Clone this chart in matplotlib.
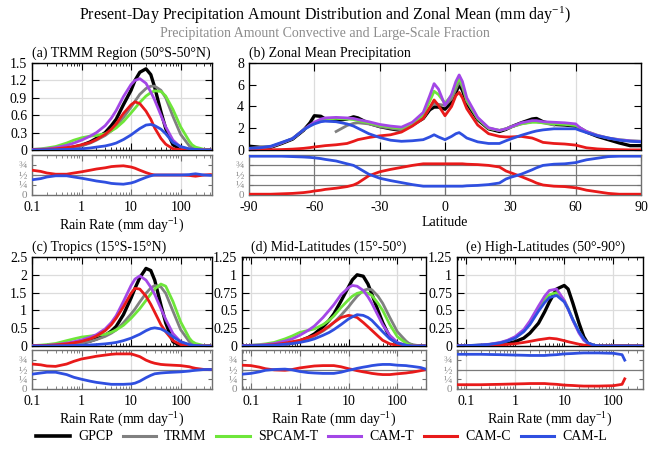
import matplotlib
matplotlib.use('Agg')
import matplotlib.pyplot as plt
import numpy as np
from matplotlib.ticker import LogLocator, NullFormatter
from matplotlib.lines import Line2D
import matplotlib.transforms as mtransforms

plt.rcParams['font.family'] = ['Liberation Serif', 'DejaVu Serif']
plt.rcParams['mathtext.fontset'] = 'custom'
plt.rcParams['mathtext.rm'] = 'Liberation Serif'
plt.rcParams['mathtext.it'] = 'Liberation Serif:italic'

# ---------------- data ----------------
series_names = ['GPCP', 'TRMM', 'SPCAM-T', 'CAM-T', 'CAM-C', 'CAM-L']
series_colors = ['#000000', '#808080', '#6ee63a', '#a347e6', '#e81a1a', '#2f4fe0']

rates = [0.066, 0.1, 0.15, 0.2, 0.3, 0.5, 0.7, 1, 1.5, 2, 3, 4, 5, 7, 10, 12, 15, 20, 25,
         30, 40, 50, 70, 100, 150, 170, 200, 300, 400]

# (a) TRMM region 50S-50N
a_gpcp  = [0, 0, .003, .005, .01, .03, .05, .08, .14, .2, .3, .42, .53, .78, 1.03, 1.2, 1.34, 1.40, 1.30, 1.08, .66, .37, .09, .015, 0, 0, 0, 0, 0]
a_trmm  = [0, 0, .003, .005, .01, .025, .04, .07, .12, .17, .25, .33, .41, .56, .74, .84, .96, 1.06, 1.10, 1.10, 1.03, .9, .58, .27, .07, .04, .02, 0, 0]
a_spcam = [.005, .01, .02, .035, .06, .12, .17, .21, .24, .25, .28, .33, .38, .49, .64, .72, .82, .93, .99, 1.02, 1.01, .93, .7, .4, .15, .09, .05, .01, 0]
a_camt  = [.005, .01, .015, .02, .04, .08, .12, .17, .24, .3, .42, .55, .68, .92, 1.13, 1.2, 1.23, 1.15, 1.0, .86, .6, .4, .17, .05, .01, .005, 0, 0, 0]
a_camc  = [0, .005, .008, .012, .02, .04, .06, .09, .13, .18, .27, .36, .45, .63, .78, .83, .80, .67, .53, .38, .2, .1, .02, .005, 0, 0, 0, 0, 0]
a_caml  = [0, .002, .003, .004, .006, .01, .014, .02, .035, .05, .07, .095, .12, .18, .26, .31, .37, .43, .44, .42, .36, .28, .13, .06, .02, .015, .01, 0, 0]
a_frac_c = [.63, .62, .59, .55, .52, .52, .55, .58, .62, .65, .68, .71, .72, .73, .70, .67, .62, .56, .52, .5, .5, .5, .5, .5, .49, .48, .47, .5, .51]
a_frac_l = [.37, .38, .41, .45, .48, .48, .45, .42, .38, .35, .32, .29, .28, .27, .30, .33, .38, .44, .48, .5, .5, .5, .5, .5, .51, .52, .53, .5, .49]

# (c) Tropics 15S-15N
c_gpcp  = [0, 0, .003, .005, .01, .03, .05, .08, .14, .2, .3, .42, .55, .88, 1.35, 1.62, 1.92, 2.18, 2.12, 1.85, 1.15, .65, .12, .01, 0, 0, 0, 0, 0]
c_trmm  = [0, 0, .003, .005, .01, .025, .045, .08, .13, .18, .27, .36, .45, .65, .9, 1.04, 1.24, 1.48, 1.63, 1.70, 1.66, 1.48, .98, .46, .12, .07, .03, 0, 0]
c_spcam = [.005, .01, .025, .04, .07, .15, .2, .25, .28, .3, .33, .39, .45, .58, .78, .9, 1.05, 1.28, 1.46, 1.6, 1.74, 1.68, 1.25, .68, .22, .13, .07, .01, 0]
c_camt  = [.005, .01, .015, .02, .04, .08, .12, .17, .25, .32, .48, .66, .85, 1.25, 1.7, 1.88, 1.97, 1.85, 1.65, 1.45, 1.05, .75, .35, .12, .03, .02, .01, 0, 0]
c_camc  = [.005, .01, .012, .016, .03, .06, .09, .13, .2, .28, .43, .6, .78, 1.1, 1.48, 1.62, 1.6, 1.4, 1.17, .95, .6, .4, .15, .04, .01, .005, 0, 0, 0]
c_caml  = [0, .002, .003, .004, .006, .01, .014, .02, .03, .04, .06, .08, .1, .15, .22, .27, .33, .43, .49, .51, .48, .41, .26, .12, .04, .02, .01, 0, 0]
c_frac_c = [.64, .64, .62, .59, .58, .64, .71, .77, .81, .84, .87, .89, .9, .9, .9, .87, .83, .74, .69, .66, .63, .62, .61, .6, .57, .55, .53, .5, .5]
c_frac_l = [.37, .38, .41, .43, .43, .37, .3, .25, .2, .17, .14, .12, .12, .12, .13, .15, .2, .29, .35, .39, .41, .42, .43, .44, .46, .47, .48, .5, .5]

# (d) Mid-latitudes 15-50
d_gpcp  = [0, .001, .003, .005, .01, .025, .04, .07, .12, .17, .27, .36, .45, .63, .83, .93, 1.0, .98, .87, .73, .5, .33, .12, .03, .005, 0, 0, 0, 0]
d_trmm  = [0, .001, .003, .005, .01, .022, .035, .06, .1, .14, .21, .27, .33, .43, .55, .62, .7, .78, .8, .79, .7, .6, .4, .2, .07, .04, .02, 0, 0]
d_spcam = [.005, .01, .02, .03, .05, .1, .14, .19, .22, .24, .3, .36, .42, .54, .65, .7, .74, .76, .74, .71, .6, .5, .3, .13, .04, .02, .01, 0, 0]
d_camt  = [.005, .01, .015, .02, .035, .07, .1, .15, .22, .28, .4, .5, .58, .72, .82, .85, .84, .78, .69, .6, .43, .3, .15, .05, .01, .005, 0, 0, 0]
d_camc  = [.003, .005, .008, .012, .02, .04, .06, .08, .12, .15, .22, .28, .33, .4, .43, .42, .4, .33, .27, .22, .14, .08, .03, .01, 0, 0, 0, 0, 0]
d_caml  = [.003, .005, .007, .009, .013, .025, .035, .05, .075, .1, .15, .19, .23, .3, .38, .41, .44, .43, .4, .36, .27, .2, .1, .04, .01, .005, 0, 0, 0]
d_frac_c = [.61, .6, .56, .52, .49, .48, .5, .54, .57, .59, .6, .6, .6, .57, .52, .5, .47, .44, .42, .4, .38, .37, .37, .39, .41, .42, .43, .47, .5]
d_frac_l = [.38, .4, .44, .48, .5, .51, .49, .45, .42, .41, .4, .4, .4, .43, .48, .5, .53, .56, .58, .6, .62, .63, .63, .61, .6, .59, .58, .55, .5]

# (e) High-latitudes 50-90
e_gpcp  = [0, .002, .004, .006, .01, .02, .035, .06, .11, .18, .32, .48, .62, .8, .85, .8, .6, .32, .13, .04, .005, 0, 0, 0, 0, 0, 0, 0, 0]
e_spcam = [.003, .006, .01, .014, .023, .045, .075, .12, .21, .32, .52, .65, .72, .75, .64, .53, .37, .2, .09, .04, .01, 0, 0, 0, 0, 0, 0, 0, 0]
e_camt  = [.003, .006, .01, .015, .025, .05, .08, .13, .23, .35, .56, .7, .78, .8, .64, .52, .36, .18, .08, .04, .01, 0, 0, 0, 0, 0, 0, 0, 0]
e_camc  = [.002, .003, .005, .007, .01, .017, .023, .032, .05, .065, .088, .1, .11, .1, .075, .06, .045, .025, .013, .007, .002, 0, 0, 0, 0, 0, 0, 0, 0]
e_caml  = [.003, .006, .01, .014, .022, .043, .07, .11, .2, .3, .49, .61, .68, .71, .62, .52, .37, .2, .1, .045, .012, .003, 0, 0, 0, 0, 0, 0, 0]
e_frac_c = [.11, .11, .11, .11, .115, .12, .125, .13, .135, .14, .14, .14, .13, .12, .1, .095, .09, .08, .075, .075, .075, .075, .08, .085, .12, .26, None, None, None]
e_frac_l = [.89, .89, .89, .89, .885, .88, .875, .87, .865, .86, .86, .86, .87, .88, .9, .905, .91, .92, .925, .925, .925, .925, .92, .915, .88, .74, None, None, None]

# (b) zonal mean precipitation
lat = [-90, -85, -80, -75, -70, -65, -62, -60, -57, -55, -50, -45, -42, -40, -35, -30, -25, -20, -15, -10,
       -7, -5, -3, 0, 3, 5, 6.5, 8, 10, 15, 20, 25, 28, 30, 35, 40, 42, 45, 50, 55, 60, 62, 65, 70, 75, 80, 85, 90]
b_gpcp  = [.35, .25, .25, .6, 1.0, 1.8, 2.5, 3.15, 3.1, 2.85, 2.7, 2.85, 3.05, 2.95, 2.45, 2.15, 1.95, 1.8, 2.3, 2.9,
           3.7, 3.95, 3.95, 3.75, 4.4, 5.3, 6.0, 5.5, 4.3, 2.8, 1.95, 1.7, 1.9, 2.1, 2.5, 2.85, 2.9, 2.6, 2.35, 2.3,
           2.2, 2.0, 1.65, 1.25, .95, .65, .4, .4]
b_trmm  = [None] * 10 + [1.7, 2.25, 2.45, 2.5, 2.4, 2.15, 2.0, 1.85, 2.3, 2.95,
           3.9, 4.3, 4.2, 4.1, 4.7, 5.6, 6.3, 5.8, 4.5, 2.9, 2.0, 1.8, 1.95, 2.1, 2.4, 2.6, 2.6, 2.5, 2.3] + [None] * 9
b_spcam = [.15, .2, .3, .65, 1.05, 1.85, 2.25, 2.5, 2.75, 2.85, 2.9, 2.85, 2.8, 2.7, 2.5, 2.25, 2.1, 2.0, 2.45, 3.25,
           4.5, 5.4, 5.1, 4.3, 5.0, 6.0, 6.6, 6.0, 4.6, 2.9, 2.0, 1.8, 1.95, 2.1, 2.4, 2.55, 2.55, 2.5, 2.4, 2.35,
           2.25, 2.0, 1.7, 1.35, 1.1, .95, .85, .8]
b_camt  = [.15, .2, .3, .65, 1.05, 1.85, 2.3, 2.55, 2.85, 2.95, 3.0, 2.95, 2.9, 2.8, 2.6, 2.35, 2.2, 2.1, 2.55, 3.45,
           5.0, 6.1, 5.6, 4.1, 5.1, 6.3, 6.9, 6.3, 4.8, 3.0, 2.05, 1.8, 1.95, 2.1, 2.5, 2.7, 2.7, 2.6, 2.55, 2.5,
           2.4, 2.05, 1.7, 1.35, 1.1, .95, .85, .8]
b_camc  = [0, .01, .02, .04, .08, .15, .22, .28, .35, .4, .48, .6, .8, .95, 1.15, 1.3, 1.4, 1.65, 2.2, 2.9,
           3.9, 4.6, 4.1, 3.15, 4.0, 5.0, 5.3, 4.8, 3.8, 2.3, 1.5, 1.25, 1.2, 1.2, 1.25, 1.1, .95, .7, .6, .55,
           .45, .35, .2, .1, .05, .03, .01, .01]
b_caml  = [.15, .2, .35, .7, 1.05, 1.85, 2.2, 2.4, 2.6, 2.65, 2.6, 2.4, 2.2, 2.0, 1.5, 1.15, .9, .8, .85, .95,
           1.2, 1.4, 1.2, .95, 1.25, 1.5, 1.6, 1.4, 1.1, .75, .6, .6, .85, 1.0, 1.35, 1.65, 1.75, 1.85, 1.95, 1.95,
           1.95, 1.8, 1.6, 1.3, 1.1, .9, .8, .75]
b_frac_c = [.02, .02, .02, .03, .04, .06, .08, .1, .12, .14, .17, .21, .25, .3, .48, .58, .64, .69, .74, .78,
            .78, .78, .78, .78, .78, .78, .78, .78, .77, .76, .74, .7, .6, .56, .46, .35, .3, .25, .22, .21,
            .18, .16, .12, .08, .04, .02, .02, .02]
b_frac_l = [.97, .97, .97, .97, .96, .95, .94, .93, .91, .89, .85, .78, .74, .68, .52, .42, .36, .31, .26, .22,
            .22, .22, .22, .22, .22, .22, .22, .22, .23, .24, .26, .3, .4, .44, .52, .63, .68, .74, .77, .78,
            .81, .84, .88, .92, .96, .97, .97, .97]

pdf_panels = [
    dict(key='a', title='(a) TRMM Region (50°S-50°N)', data=[a_gpcp, a_trmm, a_spcam, a_camt, a_camc, a_caml],
         frac=[a_frac_c, a_frac_l], ylim=1.5, yticks=[0, .3, .6, .9, 1.2, 1.5],
         ylabels=['0', '0.3', '0.6', '0.9', '1.2', '1.5'], xlim=(0.1, 430), box=(32, 63, 212, 150, 155, 195)),
    dict(key='c', title='(c) Tropics (15°S-15°N)', data=[c_gpcp, c_trmm, c_spcam, c_camt, c_camc, c_caml],
         frac=[c_frac_c, c_frac_l], ylim=2.5, yticks=[0, .5, 1, 1.5, 2, 2.5],
         ylabels=['0', '0.5', '1', '1.5', '2', '2.5'], xlim=(0.1, 430), box=(32, 257, 212, 346, 350, 389)),
    dict(key='d', title='(d) Mid-Latitudes (15°-50°)', data=[d_gpcp, d_trmm, d_spcam, d_camt, d_camc, d_caml],
         frac=[d_frac_c, d_frac_l], ylim=1.25, yticks=[0, .25, .5, .75, 1, 1.25],
         ylabels=['0', '0.25', '0.5', '0.75', '1', '1.25'], xlim=(0.066, 385), box=(242, 257, 426, 346, 350, 389)),
    dict(key='e', title='(e) High-Latitudes (50°-90°)', data=[e_gpcp, None, e_spcam, e_camt, e_camc, e_caml],
         frac=[e_frac_c, e_frac_l], ylim=1.25, yticks=[0, .25, .5, .75, 1, 1.25],
         ylabels=['0', '0.25', '0.5', '0.75', '1', '1.25'], xlim=(0.066, 400), box=(457, 257, 643, 346, 350, 389)),
]

W, H = 650, 450
fig = plt.figure(figsize=(6.5, 4.5), dpi=100)

def pos(x0, y0, x1, y1):
    return [x0 / W, 1 - y1 / H, (x1 - x0) / W, (y1 - y0) / H]

GRID = '#dcdcdc'
FRAME2 = '#707070'
LBL2 = '#8a8a8a'

def tofloat(v):
    return np.array([np.nan if x is None else x for x in v], dtype=float)

def style_top(ax):
    ax.tick_params(which='both', direction='in', top=True, right=True, labelsize=10, colors='black')
    ax.tick_params(which='major', length=5, width=0.8)
    ax.tick_params(which='minor', length=2.5, width=0.6)
    for s in ax.spines.values():
        s.set_linewidth(1.0)

def style_bot(ax):
    ax.tick_params(which='both', direction='in', top=True, right=True, labelsize=10, color=FRAME2)
    ax.tick_params(which='major', length=4, width=0.8)
    ax.tick_params(which='minor', length=2.5, width=0.6)
    ax.tick_params(axis='y', labelsize=8, labelcolor=LBL2, length=3)
    for s in ax.spines.values():
        s.set_linewidth(1.0)
        s.set_color(FRAME2)

r = np.array(rates)
for p in pdf_panels:
    x0, y0, x1, y1, y2, y3 = p['box']
    ax = fig.add_axes(pos(x0, y0, x1, y1))
    axb = fig.add_axes(pos(x0, y2, x1, y3))
    for vals, col, name in zip(p['data'], series_colors, series_names):
        if vals is None:
            continue
        ax.plot(r, tofloat(vals), color=col, lw=2.4 if name == 'GPCP' else 2.0, solid_capstyle='round', zorder=3)
    ax.set_xscale('log')
    ax.set_xlim(*p['xlim'])
    ax.set_ylim(0, p['ylim'])
    ax.set_yticks(p['yticks'])
    ax.set_yticklabels(p['ylabels'])
    ax.set_xticks([0.1, 1, 10, 100])
    ax.xaxis.set_minor_locator(LogLocator(base=10, subs=np.arange(2, 10)))
    ax.xaxis.set_minor_formatter(NullFormatter())
    ax.set_xticklabels([])
    ax.grid(True, which='major', color=GRID, lw=0.9, zorder=0)
    ax.set_axisbelow(True)
    style_top(ax)
    trans = mtransforms.blended_transform_factory(ax.transData, ax.transAxes)
    ax.text(0.1, 1.035, p['title'], transform=trans, ha='left', va='bottom', fontsize=10)

    axb.plot(r, tofloat(p['frac'][0]), color=series_colors[4], lw=2.0, zorder=3)
    axb.plot(r, tofloat(p['frac'][1]), color=series_colors[5], lw=2.0, zorder=3)
    axb.set_xscale('log')
    axb.set_xlim(*p['xlim'])
    axb.set_ylim(0, 1)
    axb.set_yticks([0, .25, .5, .75])
    axb.set_yticklabels(['0', '¼', '½', '¾'])
    axb.set_xticks([0.1, 1, 10, 100])
    axb.set_xticklabels(['0.1', '1', '10', '100'])
    axb.xaxis.set_minor_locator(LogLocator(base=10, subs=np.arange(2, 10)))
    axb.xaxis.set_minor_formatter(NullFormatter())
    axb.grid(True, axis='x', which='major', color=GRID, lw=0.9, zorder=0)
    axb.axhline(0.5, color='#7a7a7a', lw=0.9, zorder=1)
    axb.set_axisbelow(True)
    style_bot(axb)
    axb.tick_params(axis='x', labelsize=10, labelcolor='black', pad=4)
    axb.set_xlabel('Rain Rate (mm day$^{-1}$)', fontsize=10, labelpad=2)

# (b) zonal mean
ax = fig.add_axes(pos(249, 63, 641, 150))
axb = fig.add_axes(pos(249, 155, 641, 195))
la = np.array(lat, dtype=float)
for vals, col, name in zip([b_gpcp, b_trmm, b_spcam, b_camt, b_camc, b_caml], series_colors, series_names):
    ax.plot(la, tofloat(vals), color=col, lw=2.4 if name == 'GPCP' else 2.0, zorder=3)
ax.set_xlim(-90, 90)
ax.set_ylim(0, 8)
ax.set_xticks([-60, -30, 0, 30, 60])
ax.set_xticklabels([])
ax.set_yticks([0, 2, 4, 6, 8])
ax.grid(True, axis='x', color=GRID, lw=0.9, zorder=0)
ax.set_axisbelow(True)
style_top(ax)
ax.tick_params(axis='x', which='major', length=6)
ax.text(0.0, 1.035, '(b) Zonal Mean Precipitation', transform=ax.transAxes, ha='left', va='bottom', fontsize=10)

axb.plot(la, tofloat(b_frac_c), color=series_colors[4], lw=2.0, zorder=3)
axb.plot(la, tofloat(b_frac_l), color=series_colors[5], lw=2.0, zorder=3)
axb.set_xlim(-90, 90)
axb.set_ylim(0, 1)
axb.set_xticks([-90, -60, -30, 0, 30, 60, 90])
axb.set_xticklabels(['-90', '-60', '-30', '0', '30', '60', '90'])
axb.set_yticks([0, .25, .5, .75])
axb.set_yticklabels(['0', '¼', '½', '¾'])
for yv in [.25, .5, .75]:
    axb.axhline(yv, color='#7a7a7a', lw=0.9, zorder=1)
for xv in [-60, -30, 30, 60, 0]:
    axb.axvline(xv, color='#7a7a7a', lw=0.9, zorder=1)
style_bot(axb)
axb.tick_params(axis='x', labelsize=10, labelcolor='black', pad=4)
axb.set_xlabel('Latitude', fontsize=10, labelpad=2)

# titles
fig.text(0.5, 1 - 15 / H, 'Present-Day Precipitation Amount Distribution and Zonal Mean (mm day$^{-1}$)',
         ha='center', va='center', fontsize=11.5)
fig.text(0.5, 1 - 33 / H, 'Precipitation Amount Convective and Large-Scale Fraction',
         ha='center', va='center', fontsize=10, color='#8c8c8c')

handles = [Line2D([0], [0], color=c, lw=2.6 if n == 'GPCP' else 2.2) for c, n in zip(series_colors, series_names)]
fig.legend(handles, series_names, loc='center', bbox_to_anchor=(0.495, 1 - 437 / H), ncol=6, frameon=False,
           fontsize=10, handlelength=2.4, handletextpad=0.6, columnspacing=0.7, borderaxespad=0, borderpad=0)

fig.savefig('out.png', dpi=100)
